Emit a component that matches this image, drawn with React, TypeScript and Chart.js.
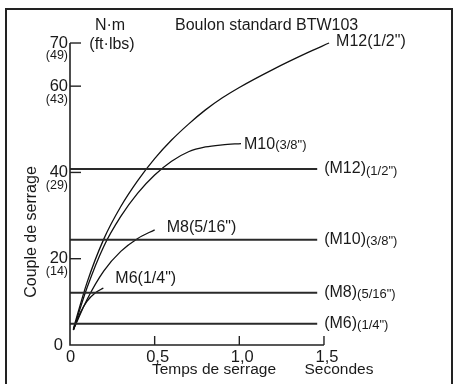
import React, { useEffect, useRef } from "react";
import { Chart, registerables } from "chart.js";

Chart.register(...registerables);

// ---------- data ----------
const chartTitle = "Boulon standard BTW103";
const yUnitMetric = "N·m";
const yUnitImperial = "(ft·lbs)";
const yAxisTitle = "Couple de serrage";
const xAxisTitle = "Temps de serrage";
const xUnitTitle = "Secondes";

const xTickValues = [0, 0.5, 1.0, 1.5];
const xTickLabels = ["0", "0,5", "1,0", "1,5"];
const yTickValues = [0, 20, 40, 60, 70];
const yTickLabels = ["0", "20", "40", "60", "70"];
const yTickSubLabels = ["", "(14)", "(29)", "(43)", "(49)"];

const curveNames = ["M6", "M8", "M10", "M12"];
const curveSizes = ['(1/4")', '(5/16")', '(3/8")', '(1/2")'];

const m6Time = [0.02, 0.06, 0.1, 0.15, 0.197];
const m6Torque = [3.5, 7.4, 10.1, 12.1, 13.2];

const m8Time = [0.02, 0.1, 0.2, 0.3, 0.4, 0.5];
const m8Torque = [3.5, 10.5, 17.2, 21.7, 24.7, 26.7];

const m10Time = [0.02, 0.1, 0.2, 0.3, 0.4, 0.5, 0.6, 0.7, 0.8, 0.9, 1.01];
const m10Torque = [3.5, 13.2, 22.9, 29.8, 35.2, 39.4, 42.6, 44.8, 45.9, 46.4, 46.7];

const m12Time = [0.02, 0.1, 0.2, 0.3, 0.4, 0.5, 0.6, 0.7, 0.8, 0.9, 1.0, 1.2, 1.4, 1.53];
const m12Torque = [3.8, 14.4, 24.6, 32.1, 38.1, 43.2, 47.5, 51.2, 54.5, 57.3, 59.7, 63.9, 67.7, 70.0];

const limitNames = ["(M6)", "(M8)", "(M10)", "(M12)"];
const limitSizes = ['(1/4")', '(5/16")', '(3/8")', '(1/2")'];
const limitTorque = [4.9, 12.1, 24.4, 40.8];
const limitStartTime = 0;
const limitEndTime = 1.46;

const curveTimes = [m6Time, m8Time, m10Time, m12Time];
const curveTorques = [m6Torque, m8Torque, m10Torque, m12Torque];

// ---------- styling ----------
const FONT = '"Liberation Sans", Arial, Helvetica, sans-serif';
const INK = "#1a1a1a";
// label offsets (pixels) from each curve's end point
const curveLabelStyle = [
  { dx: 12, dy: -9, smallSize: false },
  { dx: 12, dy: -2, smallSize: false },
  { dx: 3, dy: 1, smallSize: true },
  { dx: 7, dy: -1, smallSize: false },
];

function drawText(
  ctx: CanvasRenderingContext2D,
  s: string,
  x: number,
  y: number,
  size: number,
  align: CanvasTextAlign = "left",
  baseline: CanvasTextBaseline = "middle"
) {
  ctx.font = `${size}px ${FONT}`;
  ctx.textAlign = align;
  ctx.textBaseline = baseline;
  ctx.fillStyle = INK;
  ctx.fillText(s, x, y);
  return ctx.measureText(s).width;
}

const decorPlugin = {
  id: "decor",
  afterDraw(chart: any) {
    const ctx: CanvasRenderingContext2D = chart.ctx;
    const xs = chart.scales.x;
    const ys = chart.scales.y;
    const x0 = xs.getPixelForValue(0);
    const y0 = ys.getPixelForValue(0);
    const yTop = ys.getPixelForValue(yTickValues[yTickValues.length - 1]);
    const xEnd = xs.getPixelForValue(xTickValues[xTickValues.length - 1]);
    ctx.save();

    // outer frame
    ctx.strokeStyle = "#222";
    ctx.lineWidth = 2;
    ctx.strokeRect(6, 9, 446, 384);

    // axes
    ctx.strokeStyle = "#222";
    ctx.lineWidth = 1.6;
    ctx.beginPath();
    ctx.moveTo(x0, yTop);
    ctx.lineTo(x0, y0);
    ctx.lineTo(xEnd, y0);
    ctx.stroke();

    // y ticks
    ctx.lineWidth = 1.4;
    yTickValues.forEach((v, i) => {
      const py = ys.getPixelForValue(v);
      if (v !== 0) {
        ctx.beginPath();
        ctx.moveTo(x0, py);
        ctx.lineTo(x0 + 11, py);
        ctx.stroke();
        drawText(ctx, yTickLabels[i], x0 - 2, py, 16.5, "right");
        if (yTickSubLabels[i])
          drawText(ctx, yTickSubLabels[i], x0 - 2, py + 13, 12.5, "right");
      } else {
        drawText(ctx, yTickLabels[i], x0 - 7, py, 16.5, "right");
      }
    });

    // x ticks
    xTickValues.forEach((v, i) => {
      const px = xs.getPixelForValue(v);
      if (v !== 0) {
        ctx.beginPath();
        ctx.moveTo(px, y0);
        ctx.lineTo(px, y0 - 9);
        ctx.stroke();
      }
      drawText(ctx, xTickLabels[i], px + (v === 0 ? 0.5 : 3), y0 + 12, 16.5, "center");
    });

    // titles
    drawText(ctx, chartTitle, 175, 26, 16, "left");
    drawText(ctx, yUnitMetric, 110, 26, 16, "center");
    drawText(ctx, yUnitImperial, 112, 45, 16, "center");
    drawText(ctx, xAxisTitle, 214, 370, 15.5, "center");
    drawText(ctx, xUnitTitle, 339, 370, 15.5, "center");
    ctx.save();
    ctx.translate(32, 232);
    ctx.rotate(-Math.PI / 2);
    drawText(ctx, yAxisTitle, 0, 0, 16, "center");
    ctx.restore();

    // curve labels
    curveNames.forEach((name, i) => {
      const t = curveTimes[i];
      const v = curveTorques[i];
      const px = xs.getPixelForValue(t[t.length - 1]);
      const py = ys.getPixelForValue(v[v.length - 1]);
      const st = curveLabelStyle[i];
      const lx = px + st.dx;
      const ly = py + st.dy;
      const w = drawText(ctx, name, lx, ly, 16, "left");
      drawText(ctx, curveSizes[i], lx + w, ly + (st.smallSize ? 1 : 0), st.smallSize ? 13 : 16, "left");
    });

    // limit labels
    limitNames.forEach((name, i) => {
      const px = xs.getPixelForValue(limitEndTime) + 7;
      const py = ys.getPixelForValue(limitTorque[i]);
      const w = drawText(ctx, name, px, py, 16, "left");
      drawText(ctx, limitSizes[i], px + w, py + 2, 13, "left");
    });

    ctx.restore();
  },
};

export default function App() {
  const canvasRef = useRef<HTMLCanvasElement | null>(null);

  useEffect(() => {
    if (!canvasRef.current) return;
    const datasets: any[] = [];
    limitTorque.forEach((v, i) => {
      datasets.push({
        label: limitNames[i],
        data: [
          { x: limitStartTime, y: v },
          { x: limitEndTime, y: v },
        ],
        borderColor: "#2a2a2a",
        borderWidth: 2,
        pointRadius: 0,
        tension: 0,
      });
    });
    curveNames.forEach((name, i) => {
      datasets.push({
        label: name,
        data: curveTimes[i].map((t, j) => ({ x: t, y: curveTorques[i][j] })),
        borderColor: "#111",
        borderWidth: 1.3,
        pointRadius: 0,
        cubicInterpolationMode: "monotone",
      });
    });

    const chart = new Chart(canvasRef.current, {
      type: "line",
      data: { datasets },
      options: {
        animation: false,
        responsive: false,
        devicePixelRatio: 1,
        layout: { padding: { left: 70, right: 12.5, top: 8.5, bottom: 39 } },
        scales: {
          x: { type: "linear", min: 0, max: 2.2, display: false },
          y: { type: "linear", min: 0, max: 78, display: false },
        },
        plugins: {
          legend: { display: false },
          tooltip: { enabled: false },
        },
      },
      plugins: [decorPlugin],
    } as any);
    return () => chart.destroy();
  }, []);

  return (
    <div style={{ position: "fixed", left: 0, top: 0, width: 455, height: 384, background: "#fff" }}>
      <canvas ref={canvasRef} width={455} height={384} style={{ display: "block" }} />
    </div>
  );
}
